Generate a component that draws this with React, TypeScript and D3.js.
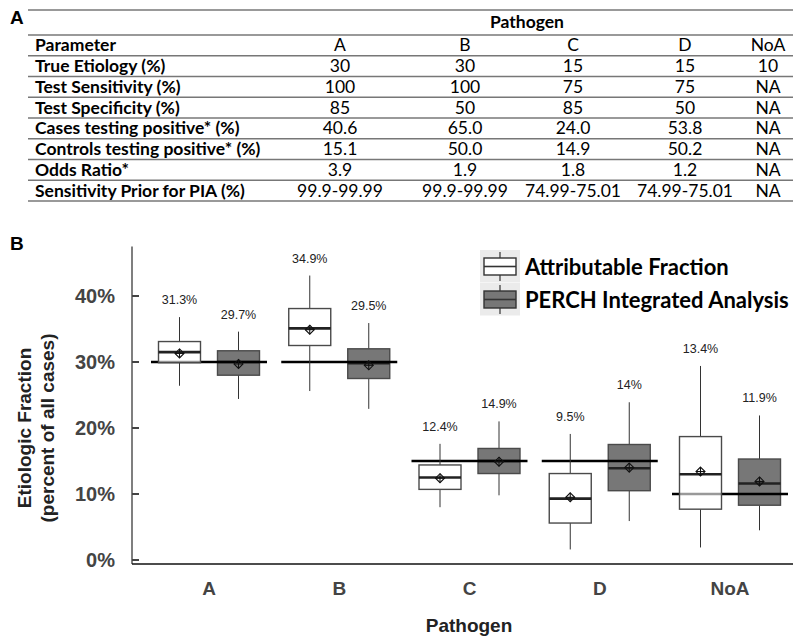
import * as d3 from 'd3';

// ---- panel A: table ----
const tableColumns = ['A', 'B', 'C', 'D', 'NoA'];
const tableRows = [
  ['True Etiology (%)', '30', '30', '15', '15', '10'],
  ['Test Sensitivity (%)', '100', '100', '75', '75', 'NA'],
  ['Test Specificity (%)', '85', '50', '85', '50', 'NA'],
  ['Cases testing positive* (%)', '40.6', '65.0', '24.0', '53.8', 'NA'],
  ['Controls testing positive* (%)', '15.1', '50.0', '14.9', '50.2', 'NA'],
  ['Odds Ratio*', '3.9', '1.9', '1.8', '1.2', 'NA'],
  ['Sensitivity Prior for PIA (%)', '99.9-99.99', '99.9-99.99', '74.99-75.01', '74.99-75.01', 'NA'],
];

// ---- panel B: box plots ----
const categories = ['A', 'B', 'C', 'D', 'NoA'];
const trueEtiology = [30, 30, 15, 15, 10];
// [low whisker, q1, median, q3, high whisker]
const afBox = [
  [26.4, 29.9, 31.5, 33.1, 36.8],
  [25.6, 32.5, 35.1, 38.1, 43.1],
  [8.0, 10.7, 12.5, 14.4, 17.6],
  [1.6, 5.6, 9.3, 13.1, 19.1],
  [1.9, 7.7, 13.0, 18.7, 29.4],
];
const afMean = [31.3, 34.9, 12.4, 9.5, 13.4];
const afLabel = ['31.3%', '34.9%', '12.4%', '9.5%', '13.4%'];
const piaBox = [
  [24.4, 28.0, 30.0, 31.7, 34.6],
  [22.9, 27.5, 29.8, 32.0, 35.9],
  [9.8, 13.1, 15.0, 16.9, 21.0],
  [5.9, 10.5, 13.9, 17.5, 23.9],
  [4.5, 8.3, 11.6, 15.3, 21.9],
];
const piaMean = [29.7, 29.5, 14.9, 14.0, 11.9];
const piaLabel = ['29.7%', '29.5%', '14.9%', '14%', '11.9%'];
const yTicks = [0, 10, 20, 30, 40];

const W = 793;
const H = 636;
const tableFont = 'Lato, "Open Sans", sans-serif';
const plotFont = '"Liberation Sans", Arial, sans-serif';

const colX = d3.scaleOrdinal<string, number>().domain(tableColumns).range([340, 465, 573, 685, 768]);
const rowY = d3.scaleLinear().domain([0, 8]).range([35, 201]);

const x = d3.scalePoint<string>().domain(categories).range([209, 730]);
const y = d3.scaleLinear().domain([0, 40]).range([560, 296]);

const boxHalf = 21;
const offset = 29.5;
const truthHalf = 58;

function Diamond({ cx, cy }: { cx: number; cy: number }) {
  const r = 4.5;
  return (
    <g stroke="#111" strokeWidth={1.1} fill="none">
      <path d={`M${cx},${cy - r}L${cx + r},${cy}L${cx},${cy + r}L${cx - r},${cy}Z`} />
      <line x1={cx} x2={cx} y1={cy - r} y2={cy + r} />
      <line x1={cx - r} x2={cx + r} y1={cy} y2={cy} />
    </g>
  );
}

function Box({ cx, s, fill, opacity }: { cx: number; s: number[]; fill: string; opacity: number }) {
  const [lo, q1, med, q3, hi] = s;
  return (
    <g>
      <line x1={cx} x2={cx} y1={y(hi)} y2={y(q3)} stroke="#333" strokeWidth={1} />
      <line x1={cx} x2={cx} y1={y(q1)} y2={y(lo)} stroke="#333" strokeWidth={1} />
      <rect
        x={cx - boxHalf}
        y={y(q3)}
        width={boxHalf * 2}
        height={y(q1) - y(q3)}
        fill={fill}
        fillOpacity={opacity}
        stroke="#4a4a4a"
        strokeWidth={1.4}
      />
      <line x1={cx - boxHalf} x2={cx + boxHalf} y1={y(med)} y2={y(med)} stroke="#222" strokeWidth={2.6} />
    </g>
  );
}

export default function App() {
  return (
    <svg
      width={W}
      height={H}
      style={{ position: 'absolute', left: 0, top: 0, background: '#fff' }}
    >
      {/* ---------- Panel A ---------- */}
      <text x={10} y={24} fontFamily={plotFont} fontWeight="bold" fontSize={19}>A</text>
      <g fontFamily={tableFont} fontSize={17.5} fill="#000">
        <line x1={28} x2={W} y1={10} y2={10} stroke="#777" strokeWidth={1.3} />
        <text x={527} y={28} fontWeight="bold" textAnchor="middle">Pathogen</text>
        {d3.range(9).map((i) => (
          <line key={i} x1={28} x2={W} y1={rowY(i)} y2={rowY(i)} stroke="#777" strokeWidth={1.3} />
        ))}
        <text x={35} y={rowY(0.5) + 6} fontWeight="bold">Parameter</text>
        {tableColumns.map((c) => (
          <text key={c} x={colX(c)} y={rowY(0.5) + 6} textAnchor="middle">{c}</text>
        ))}
        {tableRows.map((row, i) => (
          <g key={row[0]}>
            <text x={35} y={rowY(i + 1.5) + 6} fontWeight="bold">{row[0]}</text>
            {row.slice(1).map((v, j) => (
              <text key={j} x={colX(tableColumns[j])} y={rowY(i + 1.5) + 6} textAnchor="middle">{v}</text>
            ))}
          </g>
        ))}
      </g>

      {/* ---------- Panel B ---------- */}
      <text x={10} y={250} fontFamily={plotFont} fontWeight="bold" fontSize={19}>B</text>

      {/* axes */}
      <line x1={132} x2={132} y1={y(47.5)} y2={564} stroke="#555" strokeWidth={1.5} />
      <line x1={132} x2={W} y1={564} y2={564} stroke="#111" strokeWidth={1.5} />
      {yTicks.map((t) => (
        <g key={t}>
          <line x1={132} x2={139} y1={y(t)} y2={y(t)} stroke="#444" strokeWidth={2} />
          <text
            x={115}
            y={y(t) + 7}
            textAnchor="end"
            fontFamily={plotFont}
            fontWeight="bold"
            fontSize={20}
            fill="#444"
          >
            {t}%
          </text>
        </g>
      ))}
      {categories.map((c) => (
        <text
          key={c}
          x={x(c)}
          y={595}
          textAnchor="middle"
          fontFamily={plotFont}
          fontWeight="bold"
          fontSize={19}
          fill="#444"
        >
          {c}
        </text>
      ))}
      <text x={469} y={632} textAnchor="middle" fontFamily={plotFont} fontWeight="bold" fontSize={19} fill="#222">
        Pathogen
      </text>
      <g transform="translate(0,428) rotate(-90)" fontFamily={plotFont} fontWeight="bold" fontSize={19} fill="#222">
        <text x={0} y={31} textAnchor="middle">Etiologic Fraction</text>
        <text x={0} y={54} textAnchor="middle">(percent of all cases)</text>
      </g>

      {/* PIA boxes (under the truth line) */}
      {categories.map((c, i) => (
        <Box key={c} cx={x(c)! + offset} s={piaBox[i]} fill="#777" opacity={1} />
      ))}
      {/* true etiology */}
      {categories.map((c, i) => (
        <line
          key={c}
          x1={x(c)! - truthHalf}
          x2={x(c)! + truthHalf}
          y1={y(trueEtiology[i])}
          y2={y(trueEtiology[i])}
          stroke="#000"
          strokeWidth={2.6}
        />
      ))}
      {/* AF boxes */}
      {categories.map((c, i) => (
        <Box key={c} cx={x(c)! - offset} s={afBox[i]} fill="#fff" opacity={0.6} />
      ))}
      {/* means and labels */}
      {categories.map((c, i) => (
        <g key={c} fontFamily={plotFont} fontSize={12.5} fill="#222" textAnchor="middle">
          <Diamond cx={x(c)! - offset} cy={y(afMean[i])} />
          <Diamond cx={x(c)! + offset} cy={y(piaMean[i])} />
          <text x={x(c)! - offset} y={y(afBox[i][4]) - 13}>{afLabel[i]}</text>
          <text x={x(c)! + offset} y={y(piaBox[i][4]) - 13}>{piaLabel[i]}</text>
        </g>
      ))}

      {/* legend */}
      <g>
        <rect x={480} y={250} width={40} height={32.5} fill="#ebebeb" />
        <rect x={480} y={283} width={40} height={32.5} fill="#ebebeb" />
        <line x1={500} x2={500} y1={252} y2={281} stroke="#333" strokeWidth={1.2} />
        <rect x={484} y={258} width={32} height={17} fill="#fff" stroke="#333" strokeWidth={1.4} />
        <line x1={484} x2={516} y1={266.5} y2={266.5} stroke="#333" strokeWidth={1.6} />
        <line x1={500} x2={500} y1={285} y2={314} stroke="#333" strokeWidth={1.2} />
        <rect x={484} y={291} width={32} height={17} fill="#777" stroke="#333" strokeWidth={1.4} />
        <line x1={484} x2={516} y1={299.5} y2={299.5} stroke="#333" strokeWidth={1.6} />
        <text x={525} y={274.5} fontFamily={tableFont} fontWeight="bold" fontSize={22} fill="#000">
          Attributable Fraction
        </text>
        <text x={525} y={307.5} fontFamily={tableFont} fontWeight="bold" fontSize={22} fill="#000">
          PERCH Integrated Analysis
        </text>
      </g>
    </svg>
  );
}
